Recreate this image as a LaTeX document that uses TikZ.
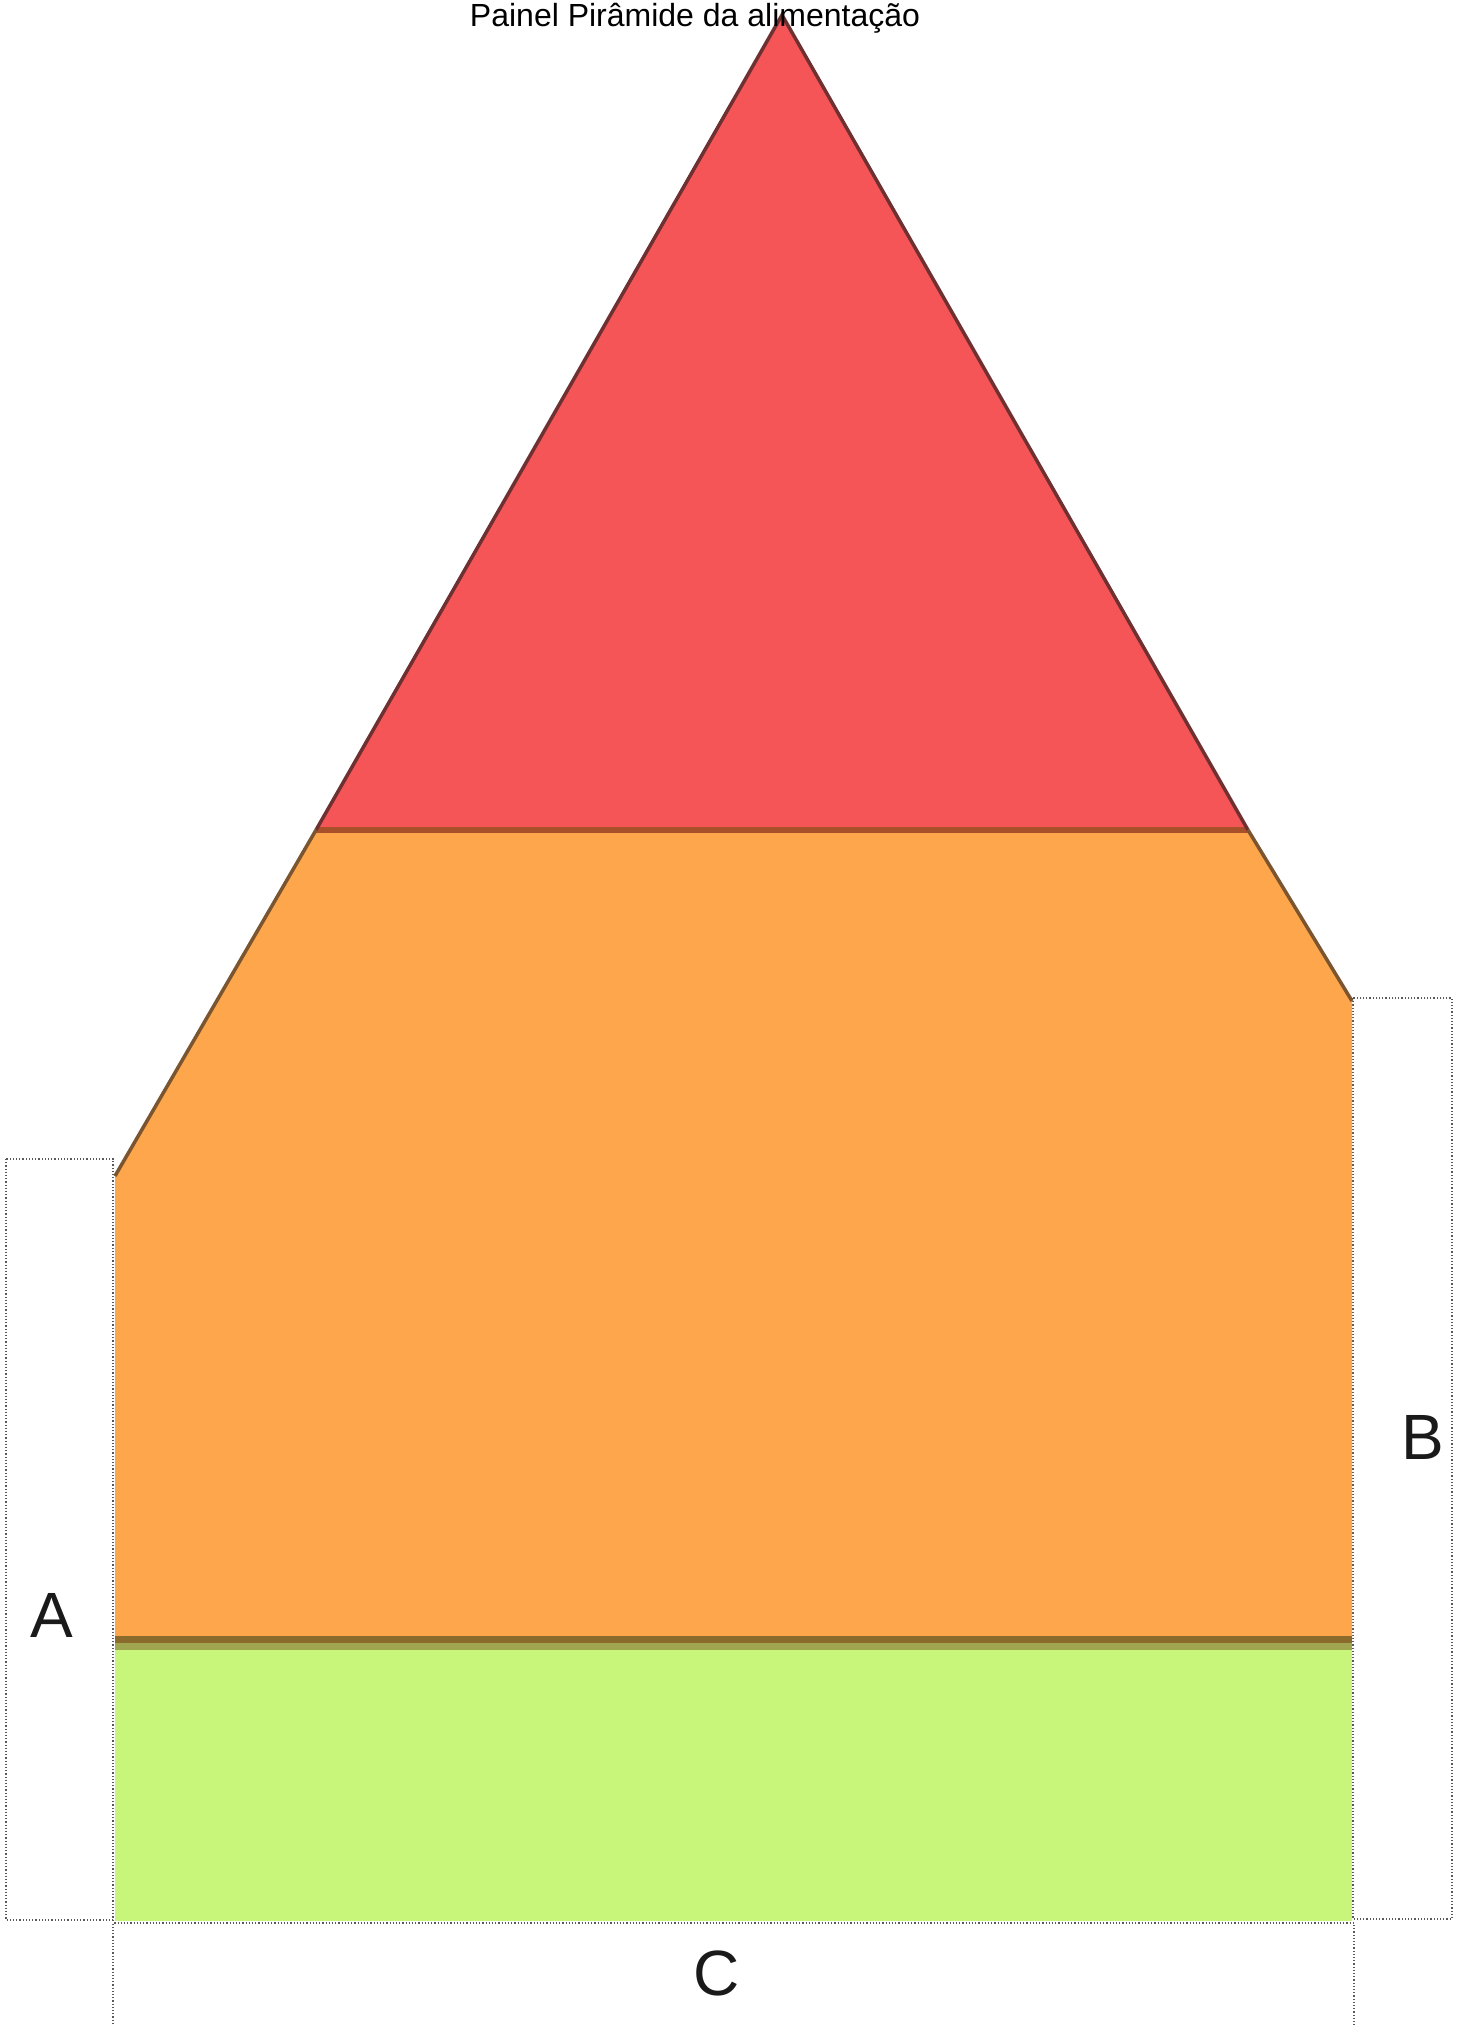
\documentclass[tikz,border=0pt]{standalone}
\usepackage{fontspec}
\setmainfont{Liberation Sans}
\definecolor{redfill}{HTML}{F65558}
\definecolor{orangefill}{HTML}{FDA64B}
\definecolor{greenfill}{HTML}{C8F67A}
\definecolor{edgered}{HTML}{6E3030}
\definecolor{edgeorange}{HTML}{7A5530}
\definecolor{bandred}{HTML}{A8502A}
\definecolor{bandgreen}{HTML}{8B6B2B}
\definecolor{bandolive}{HTML}{A0A550}
\definecolor{labelgray}{HTML}{1A1A1A}
\tikzset{
  dimbox/.style={draw=black!65, dotted, line width=1.2pt},
  letterlabel/.style={font=\fontsize{64}{70}\selectfont, text=labelgray, inner sep=0pt},
  titlelabel/.style={font=\fontsize{32}{36}\selectfont, text=black, inner sep=0pt, anchor=base}
}
\begin{document}
\begin{tikzpicture}[x=1pt,y=-1pt]
\useasboundingbox (0,0) rectangle (1464,2026);
% coordinates
\coordinate (apex) at (782,15);
\coordinate (redL) at (316,830);
\coordinate (redR) at (1248,830);
\coordinate (orL) at (115,1176);
\coordinate (orR) at (1352,1001);
\coordinate (grL) at (115,1640);
\coordinate (grR) at (1352,1640);
\coordinate (botL) at (115,1921);
\coordinate (botR) at (1352,1921);
% dotted boxes
\draw[dimbox] (6,1159) rectangle (113,1920);
\draw[dimbox] (1353,998) rectangle (1452,1919);
\draw[dimbox] (113,2040) -- (113,1923) -- (1354,1923) -- (1354,2040);
% orange body
\fill[orangefill] (redL) -- (orL) -- (grL) -- (grR) -- (orR) -- (redR) -- cycle;
% green base
\fill[greenfill] (grL) rectangle (botR);
\fill[bandolive] (115,1643) rectangle (1352,1650);
\fill[bandgreen] (115,1636) rectangle (1352,1643);
% red triangle
\fill[redfill] (apex) -- (redL) -- (redR) -- cycle;
\draw[bandred, line width=6pt] (redL) -- (redR);
% slanted edges
\draw[edgered, line width=3.5pt, line join=miter] (redL) -- (apex) -- (redR);
\draw[edgeorange, line width=3.5pt] (redL) -- (orL);
\draw[edgeorange, line width=3.5pt] (redR) -- (orR);
% labels
\node[titlelabel] (title) at (695,27) {Painel Pirâmide da alimentação};
\node[letterlabel] (labA) at (52,1615) {A};
\node[letterlabel] (labB) at (1423,1437) {B};
\node[letterlabel] (labC) at (717,1973) {C};
\end{tikzpicture}
\end{document}
